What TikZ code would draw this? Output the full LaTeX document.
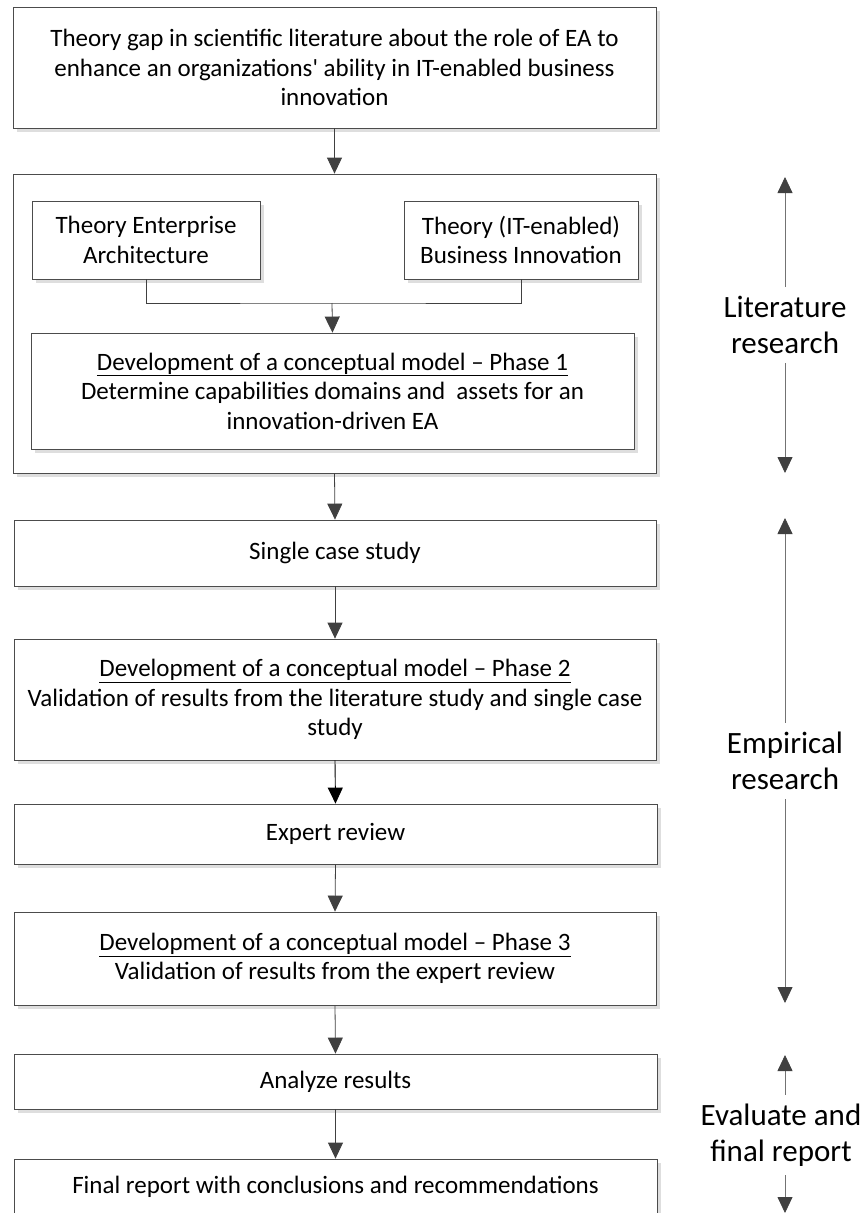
\documentclass[tikz,border=0pt]{standalone}
\usepackage{fontspec}
\setmainfont{Carlito}[Ligatures=TeXOff]
\usetikzlibrary{arrows.meta,shadows}
\begin{document}
\begin{tikzpicture}[x=1pt,y=-1pt,
  box/.style={draw=black!70,line width=0.8pt,fill=white,align=center,inner sep=0pt,
    font=\fontsize{25}{29.5}\selectfont,
    drop shadow={shadow xshift=3.5pt,shadow yshift=-3.5pt,fill=black!13,opacity=1}},
  flow/.style={draw=black!75,line width=0.8pt,-{Triangle[length=16pt,width=15pt,color=black!75,fill=black!75]}},
  side/.style={draw=black!55,line width=0.8pt,-{Triangle[length=16pt,width=15pt,color=black!75,fill=black!75]}},
  lab/.style={align=center,inner sep=9pt,font=\fontsize{31}{36}\selectfont}]
\useasboundingbox (0,0) rectangle (864,1213);
% boxes
\node[box,minimum width=643pt,minimum height=121pt] (gap) at (334.5,67.5)
  {Theory gap in scientific literature about the role of EA to\\enhance an organizations' ability in IT-enabled business\\innovation};
\node[box,minimum width=643pt,minimum height=299pt] (lit) at (334.5,323.5) {};
\node[box,minimum width=228pt,minimum height=78pt] (ta) at (146,240)
  {Theory Enterprise\\Architecture};
\node[box,minimum width=234pt,minimum height=78pt] (tb) at (521,240)
  {Theory (IT-enabled)\\Business Innovation};
\node[box,minimum width=603pt,minimum height=116pt] (p1) at (332.5,391)
  {\underline{Development of a conceptual model – Phase 1}\\Determine capabilities domains and\ \ assets for an\\innovation-driven EA};
\node[box,minimum width=642pt,minimum height=66pt] (scs) at (335,553)
  {Single case study};
\node[box,minimum width=642pt,minimum height=121pt] (p2) at (335,699.5)
  {\underline{Development of a conceptual model – Phase 2}\\Validation of results from the literature study and single case\\study};
\node[box,minimum width=643pt,minimum height=60pt] (exp) at (335.5,834)
  {Expert review};
\node[box,minimum width=642pt,minimum height=93pt] (p3) at (335,958.5)
  {\underline{Development of a conceptual model – Phase 3}\\Validation of results from the expert review};
\node[box,minimum width=643pt,minimum height=55pt] (ana) at (335.5,1081.5)
  {Analyze results};
\node[box,minimum width=643pt,minimum height=56pt] (fin) at (335.5,1187)
  {Final report with conclusions and recommendations};
% connectors
\draw[flow] (gap.south) -- (lit.north);
\coordinate (j) at (332,303);
\draw[draw=black!75,line width=0.8pt] (ta.south) |- (j) -| (tb.south);
\draw[flow] (j) -- (p1.north);
\draw[flow] (lit.south) -- (scs.north);
\draw[flow] (scs.south) -- (p2.north);
\draw[draw=black,line width=0.9pt,-{Triangle[length=16pt,width=15pt,color=black,fill=black]}] (p2.south) -- (exp.north);
\draw[flow] (exp.south) -- (p3.north);
\draw[flow] (p3.south) -- (ana.north);
\draw[flow] (ana.south) -- (fin.north);
% side labels
\node[lab] (l1) at (785,325) {Literature\\research};
\coordinate (l1t) at (785,177);
\coordinate (l1b) at (785,473);
\draw[side] (l1.north) -- (l1t);
\draw[side] (l1.south) -- (l1b);
\node[lab] (l2) at (785,761) {Empirical\\research};
\coordinate (l2t) at (785,518);
\coordinate (l2b) at (785,1003);
\draw[side] (l2.north) -- (l2t);
\draw[side] (l2.south) -- (l2b);
\node[lab] (l3) at (781,1135) {Evaluate and\\final report};
\coordinate (l3t) at (785,1055);
\coordinate (l3b) at (785,1213);
\draw[side] (l3.north -| l3t) -- (l3t);
\draw[side] (l3.south -| l3b) -- (l3b);
\end{tikzpicture}
\end{document}
